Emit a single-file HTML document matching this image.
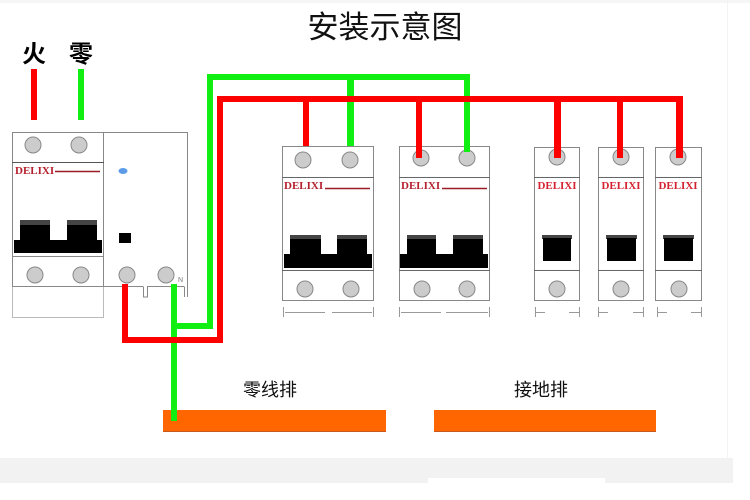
<!DOCTYPE html>
<html><head><meta charset="utf-8"><style>
html,body{margin:0;padding:0;background:#fff;}
svg{display:block;}
.c{font-family:"Liberation Sans","Noto Sans CJK SC",sans-serif;}
.d{font-family:"Liberation Serif",serif;font-weight:bold;font-size:11px;}
</style></head><body>
<svg width="750" height="500" viewBox="0 0 750 500" xmlns="http://www.w3.org/2000/svg">
<rect x="0" y="0" width="750" height="500" fill="#fff"/>
<rect x="0" y="0" width="750" height="3" fill="#f6f6f6"/>
<rect x="0" y="458" width="733" height="25" fill="#f2f2f2"/>
<rect x="428" y="478" width="177" height="6" fill="#fff"/>
<rect x="727" y="0" width="1" height="458" fill="#f4f4f4"/>

<!-- title -->
<text class="c" x="385" y="38" font-size="31" text-anchor="middle" fill="#111">安装示意图</text>
<text class="c" x="34" y="62" font-size="24" font-weight="bold" text-anchor="middle" fill="#000">火</text>
<text class="c" x="81" y="62" font-size="24" font-weight="bold" text-anchor="middle" fill="#000">零</text>
<rect x="31" y="69" width="6" height="51" fill="#ff0000"/>
<rect x="78" y="69" width="6" height="51" fill="#11ee11"/>

<!-- left main breaker -->
<g stroke="#888" stroke-width="1" fill="none">
<rect x="12.5" y="286.5" width="91" height="31" stroke="#bbb"/>
<rect x="12.5" y="132.5" width="91" height="154" fill="#fff"/>
<line x1="12" y1="162.5" x2="104" y2="162.5"/>
<line x1="12" y1="256.5" x2="104" y2="256.5"/>
<!-- RCD -->
<polyline points="104,132.5 187.5,132.5 187.5,297"/>
<line x1="104" y1="286.5" x2="143" y2="286.5"/>
<polyline points="143.5,286.5 143.5,297 147.5,297 147.5,286.5 184,286.5"/>
<line x1="184.5" y1="286.5" x2="184.5" y2="297"/>
</g>
<line x1="12" y1="162.5" x2="104" y2="162.5" stroke="#555" stroke-width="1"/>
<g fill="#ccc" stroke="#888" stroke-width="1">
<circle cx="33" cy="145" r="8"/><circle cx="79" cy="145" r="8"/>
<circle cx="35" cy="275" r="8"/><circle cx="81" cy="275" r="8"/>
<circle cx="127" cy="275" r="8"/><circle cx="166" cy="275" r="8"/>
</g>
<text class="d" x="15" y="174" fill="#b5222e">DELIXI</text>
<line x1="55" y1="171.5" x2="100" y2="171.5" stroke="#9a1c24" stroke-width="1.5"/>
<rect x="20" y="220" width="30" height="5" fill="#444"/><rect x="20" y="225" width="30" height="16" fill="#000"/>
<rect x="67" y="220" width="30" height="5" fill="#444"/><rect x="67" y="225" width="30" height="16" fill="#000"/>
<rect x="14" y="240" width="88" height="13" fill="#000"/>
<ellipse cx="123" cy="171" rx="4.5" ry="3" fill="#5b9be8"/>
<rect x="119" y="233" width="12" height="10" fill="#000"/>
<text x="178" y="282" font-family="Liberation Sans,sans-serif" font-size="7" fill="#777">N</text>

<!-- two-pole breakers -->
<g>
<rect x="282.5" y="146.5" width="91" height="154" fill="#fff" stroke="#888"/>
<line x1="282" y1="177.5" x2="374" y2="177.5" stroke="#666"/>
<line x1="282" y1="270.5" x2="374" y2="270.5" stroke="#666"/>
<g fill="#ccc" stroke="#888"><circle cx="303" cy="160" r="8"/><circle cx="350" cy="160" r="8"/><circle cx="305" cy="289" r="8"/><circle cx="351" cy="289" r="8"/></g>
<text class="d" x="284" y="189" fill="#b5222e">DELIXI</text>
<line x1="325" y1="188.5" x2="370" y2="188.5" stroke="#9a1c24" stroke-width="1.5"/>
<rect x="290" y="235" width="31" height="5" fill="#444"/><rect x="290" y="239" width="31" height="16" fill="#000"/>
<rect x="337" y="235" width="30" height="5" fill="#444"/><rect x="337" y="239" width="30" height="16" fill="#000"/>
<rect x="284" y="254" width="88" height="14" fill="#000"/>
<g stroke="#999" stroke-width="1"><line x1="283.5" y1="307" x2="283.5" y2="317"/><line x1="373.5" y1="307" x2="373.5" y2="317"/><line x1="285" y1="312.5" x2="325" y2="312.5"/><line x1="332" y1="312.5" x2="372" y2="312.5"/></g>
</g>
<g>
<rect x="399.5" y="146.5" width="90" height="154" fill="#fff" stroke="#888"/>
<line x1="399" y1="177.5" x2="490" y2="177.5" stroke="#666"/>
<line x1="399" y1="270.5" x2="490" y2="270.5" stroke="#666"/>
<g fill="#ccc" stroke="#888"><circle cx="421" cy="158" r="8"/><circle cx="467" cy="158" r="8"/><circle cx="422" cy="289" r="8"/><circle cx="467" cy="289" r="8"/></g>
<text class="d" x="401" y="189" fill="#b5222e">DELIXI</text>
<line x1="442" y1="188.5" x2="487" y2="188.5" stroke="#9a1c24" stroke-width="1.5"/>
<rect x="407" y="235" width="29" height="5" fill="#444"/><rect x="407" y="239" width="29" height="16" fill="#000"/>
<rect x="453" y="235" width="30" height="5" fill="#444"/><rect x="453" y="239" width="30" height="16" fill="#000"/>
<rect x="400" y="254" width="88" height="14" fill="#000"/>
<g stroke="#999" stroke-width="1"><line x1="399.5" y1="307" x2="399.5" y2="317"/><line x1="489.5" y1="307" x2="489.5" y2="317"/><line x1="401" y1="312.5" x2="441" y2="312.5"/><line x1="446" y1="312.5" x2="488" y2="312.5"/></g>
</g>

<!-- single-pole breakers -->
<g>
<rect x="534.5" y="147.5" width="45" height="153" fill="#fff" stroke="#888"/>
<line x1="534" y1="177.5" x2="580" y2="177.5" stroke="#666"/><line x1="534" y1="270.5" x2="580" y2="270.5" stroke="#666"/>
<g fill="#ccc" stroke="#888"><circle cx="557" cy="157" r="8"/><circle cx="557" cy="289" r="8"/></g>
<text class="d" x="557" y="189" text-anchor="middle" fill="#d42230">DELIXI</text>
<rect x="542" y="235" width="30" height="4" fill="#444"/><rect x="543" y="238" width="28" height="23" fill="#000"/>
<g stroke="#999"><line x1="535.5" y1="307" x2="535.5" y2="317"/><line x1="535" y1="312.5" x2="545" y2="312.5"/><line x1="579.5" y1="307" x2="579.5" y2="317"/><line x1="569" y1="312.5" x2="579" y2="312.5"/></g>
</g>
<g>
<rect x="598.5" y="147.5" width="45" height="153" fill="#fff" stroke="#888"/>
<line x1="598" y1="177.5" x2="644" y2="177.5" stroke="#666"/><line x1="598" y1="270.5" x2="644" y2="270.5" stroke="#666"/>
<g fill="#ccc" stroke="#888"><circle cx="621" cy="157" r="8"/><circle cx="621" cy="289" r="8"/></g>
<text class="d" x="621" y="189" text-anchor="middle" fill="#d42230">DELIXI</text>
<rect x="606" y="235" width="31" height="4" fill="#444"/><rect x="607" y="238" width="29" height="23" fill="#000"/>
<g stroke="#999"><line x1="598.5" y1="307" x2="598.5" y2="317"/><line x1="598" y1="312.5" x2="608" y2="312.5"/><line x1="643.5" y1="307" x2="643.5" y2="317"/><line x1="633" y1="312.5" x2="643" y2="312.5"/></g>
</g>
<g>
<rect x="655.5" y="147.5" width="46" height="153" fill="#fff" stroke="#888"/>
<line x1="655" y1="177.5" x2="702" y2="177.5" stroke="#666"/><line x1="655" y1="270.5" x2="702" y2="270.5" stroke="#666"/>
<g fill="#ccc" stroke="#888"><circle cx="678" cy="157" r="8"/><circle cx="679" cy="289" r="8"/></g>
<text class="d" x="678" y="189" text-anchor="middle" fill="#d42230">DELIXI</text>
<rect x="663" y="235" width="31" height="4" fill="#444"/><rect x="664" y="238" width="29" height="23" fill="#000"/>
<g stroke="#999"><line x1="657.5" y1="307" x2="657.5" y2="317"/><line x1="657" y1="312.5" x2="667" y2="312.5"/><line x1="701.5" y1="307" x2="701.5" y2="317"/><line x1="691" y1="312.5" x2="701" y2="312.5"/></g>
</g>

<!-- orange bars -->
<rect x="163" y="410" width="223" height="22" fill="#ff6600"/>
<rect x="163" y="431" width="223" height="1" fill="#c65a1e"/>
<rect x="434" y="410" width="222" height="22" fill="#ff6600"/>
<rect x="434" y="431" width="222" height="1" fill="#c65a1e"/>

<!-- green wires -->
<g fill="#11ee11">
<rect x="207" y="74" width="263" height="6"/>
<rect x="207" y="74" width="6" height="255"/>
<rect x="171" y="323" width="42" height="6"/>
<rect x="171" y="284" width="6" height="137"/>
<rect x="347" y="74" width="7" height="72"/>
<rect x="464" y="74" width="6" height="78"/>
</g>
<!-- red wires -->
<g fill="#ff0000">
<rect x="217" y="96" width="466" height="6"/>
<rect x="217" y="96" width="6" height="247"/>
<rect x="122" y="337" width="101" height="6"/>
<rect x="122" y="284" width="6" height="59"/>
<rect x="303" y="96" width="6" height="50"/>
<rect x="416" y="96" width="6" height="62"/>
<rect x="554" y="96" width="7" height="62"/>
<rect x="617" y="96" width="6" height="62"/>
<rect x="676" y="96" width="7" height="62"/>
</g>

<text class="c" x="270" y="396" font-size="18" text-anchor="middle" fill="#111">零线排</text>
<text class="c" x="541" y="396" font-size="18" text-anchor="middle" fill="#111">接地排</text>
</svg>
</body></html>
